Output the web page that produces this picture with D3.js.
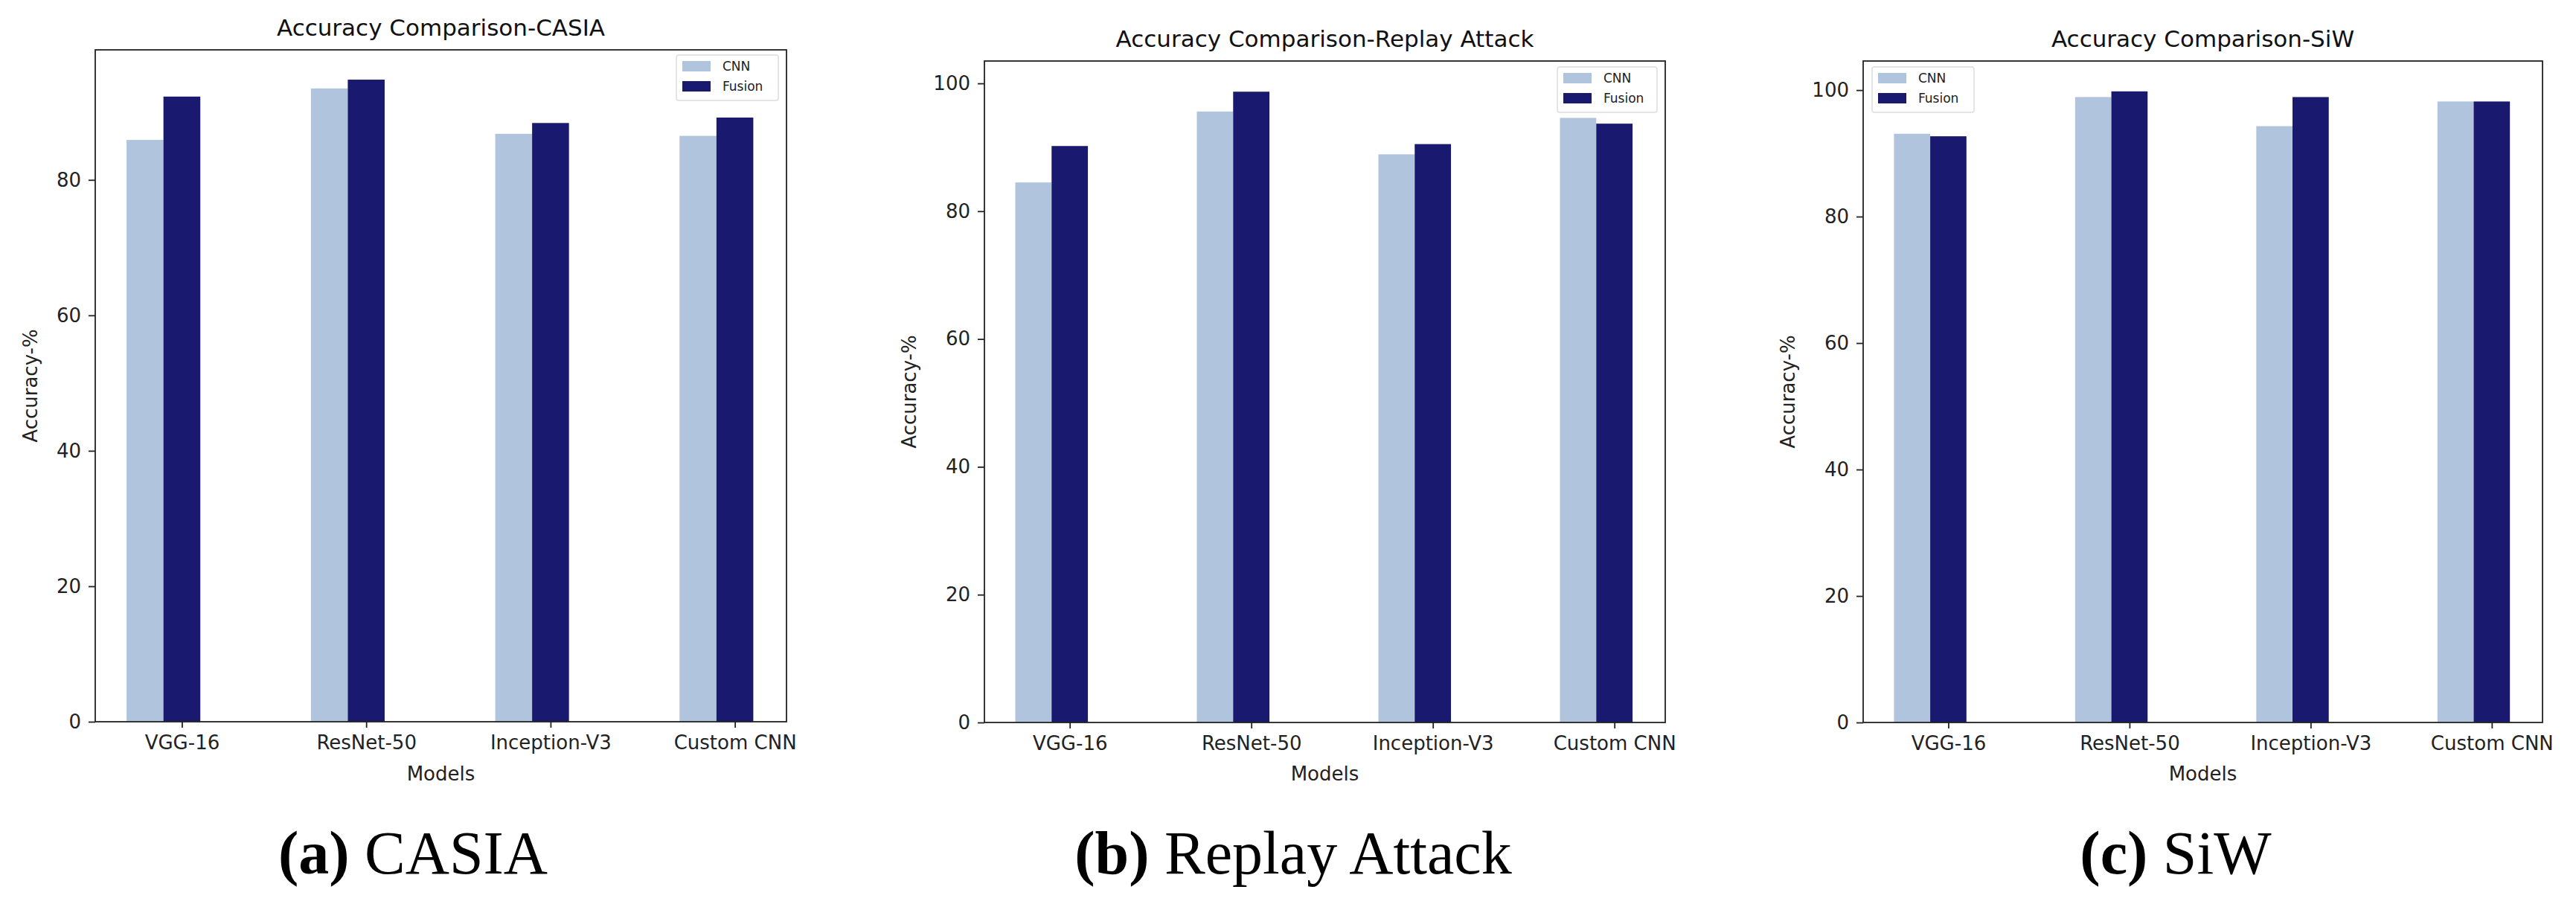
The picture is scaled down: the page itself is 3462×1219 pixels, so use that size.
<!DOCTYPE html>
<html><head><meta charset="utf-8">
<script src="https://cdn.jsdelivr.net/npm/d3@7"></script>
<style>body{margin:0;background:#fff}</style></head>
<body><svg id="c" width="3462" height="1219"></svg>
<script>
const categories = ["VGG-16","ResNet-50","Inception-V3","Custom CNN"];
const seriesNames = ["CNN","Fusion"];
const casiaCNN = [85.9,93.5,86.8,86.5];
const casiaFusion = [92.3,94.8,88.4,89.2];
const replayCNN = [84.5,95.6,88.9,94.6];
const replayFusion = [90.2,98.7,90.5,93.7];
const siwCNN = [93.1,98.9,94.3,98.2];
const siwFusion = [92.7,99.8,98.9,98.2];
const yTicks = [0,20,40,60,80,100];
const titles = ["Accuracy Comparison-CASIA","Accuracy Comparison-Replay Attack","Accuracy Comparison-SiW"];
const captionsBold = ["(a)","(b)","(c)"];
const captionsText = ["CASIA","Replay Attack","SiW"];

const colors = ["#b0c4de","#191970"];
const svg = d3.select("#c");
const panels = [
  {L:128,R:1057,T:67,B:970,ymax:99.2,data:[casiaCNN,casiaFusion],ylx:42,leg:{x:909,y:74,w:137},titleY:48,cap:555},
  {L:1323,R:2238,T:82,B:971,ymax:103.5,data:[replayCNN,replayFusion],ylx:1223,leg:{x:2093,y:90,w:134},titleY:63,cap:1738},
  {L:2504,R:3417,T:82,B:971,ymax:104.6,data:[siwCNN,siwFusion],ylx:2404,leg:{x:2516,y:90,w:137},titleY:63,cap:2924}
];
panels.forEach((p,pi)=>{
  const x = d3.scaleLinear().domain([-0.47,3.28]).range([p.L,p.R]);
  const y = d3.scaleLinear().domain([0,p.ymax]).range([p.B,p.T]);
  const g = svg.append("g");
  p.data.forEach((vals,si)=>{
    g.selectAll(null).data(vals).enter().append("rect")
      .attr("x",(d,i)=>x(i-0.3+0.2*si)).attr("width",(d,i)=>x(i-0.1+0.2*si)-x(i-0.3+0.2*si))
      .attr("y",d=>y(d)).attr("height",d=>y(0)-y(d)).attr("fill",colors[si]);
  });
  g.append("rect").attr("x",p.L).attr("y",p.T).attr("width",p.R-p.L).attr("height",p.B-p.T)
    .attr("fill","none").attr("stroke","#222").attr("stroke-width",1.8);
  const ya = d3.axisLeft(y).tickValues(yTicks.filter(t=>t<=p.ymax)).tickSize(9).tickPadding(10);
  const yg = g.append("g").attr("transform",`translate(${p.L},0)`).call(ya);
  const xa = d3.axisBottom(x).tickValues(d3.range(categories.length)).tickFormat(i=>categories[i]).tickSize(8).tickPadding(11);
  const xg = g.append("g").attr("transform",`translate(0,${p.B})`).call(xa);
  [yg,xg].forEach(a=>{a.select(".domain").remove();a.selectAll("line").attr("stroke","#222").attr("stroke-width",1.8);
    a.selectAll("text").attr("font-family","DejaVu Sans").attr("font-size",26).attr("fill","#222");});
  g.append("text").attr("x",(p.L+p.R)/2).attr("y",p.titleY).attr("text-anchor","middle")
    .attr("font-family","DejaVu Sans").attr("font-size",31).attr("fill","#111").text(titles[pi]);
  g.append("text").attr("x",(p.L+p.R)/2).attr("y",1049).attr("text-anchor","middle")
    .attr("font-family","DejaVu Sans").attr("font-size",26).attr("fill","#222").text("Models");
  g.append("text").attr("transform",`translate(${p.ylx},${(p.T+p.B)/2}) rotate(-90)`).attr("text-anchor","middle")
    .attr("dominant-baseline","middle").attr("font-family","DejaVu Sans").attr("font-size",26).attr("fill","#222").text("Accuracy-%");
  const lg = g.append("g").attr("transform",`translate(${p.leg.x},${p.leg.y})`);
  lg.append("rect").attr("width",p.leg.w).attr("height",61).attr("rx",3).attr("fill","#fff").attr("stroke","#ddd").attr("stroke-width",1.5);
  seriesNames.forEach((s,si)=>{
    lg.append("rect").attr("x",8).attr("y",8+si*27).attr("width",38).attr("height",14).attr("fill",colors[si]);
    lg.append("text").attr("x",62).attr("y",21+si*27).attr("font-family","DejaVu Sans").attr("font-size",17).attr("fill","#222").text(s);
  });
  const cap = svg.append("text").attr("x",p.cap).attr("y",1174).attr("text-anchor","middle")
    .attr("font-family","Liberation Serif").attr("font-size",82).attr("fill","#000");
  cap.append("tspan").attr("font-weight","bold").text(captionsBold[pi]);
  cap.append("tspan").text(" "+captionsText[pi]);
});
</script></body></html>
